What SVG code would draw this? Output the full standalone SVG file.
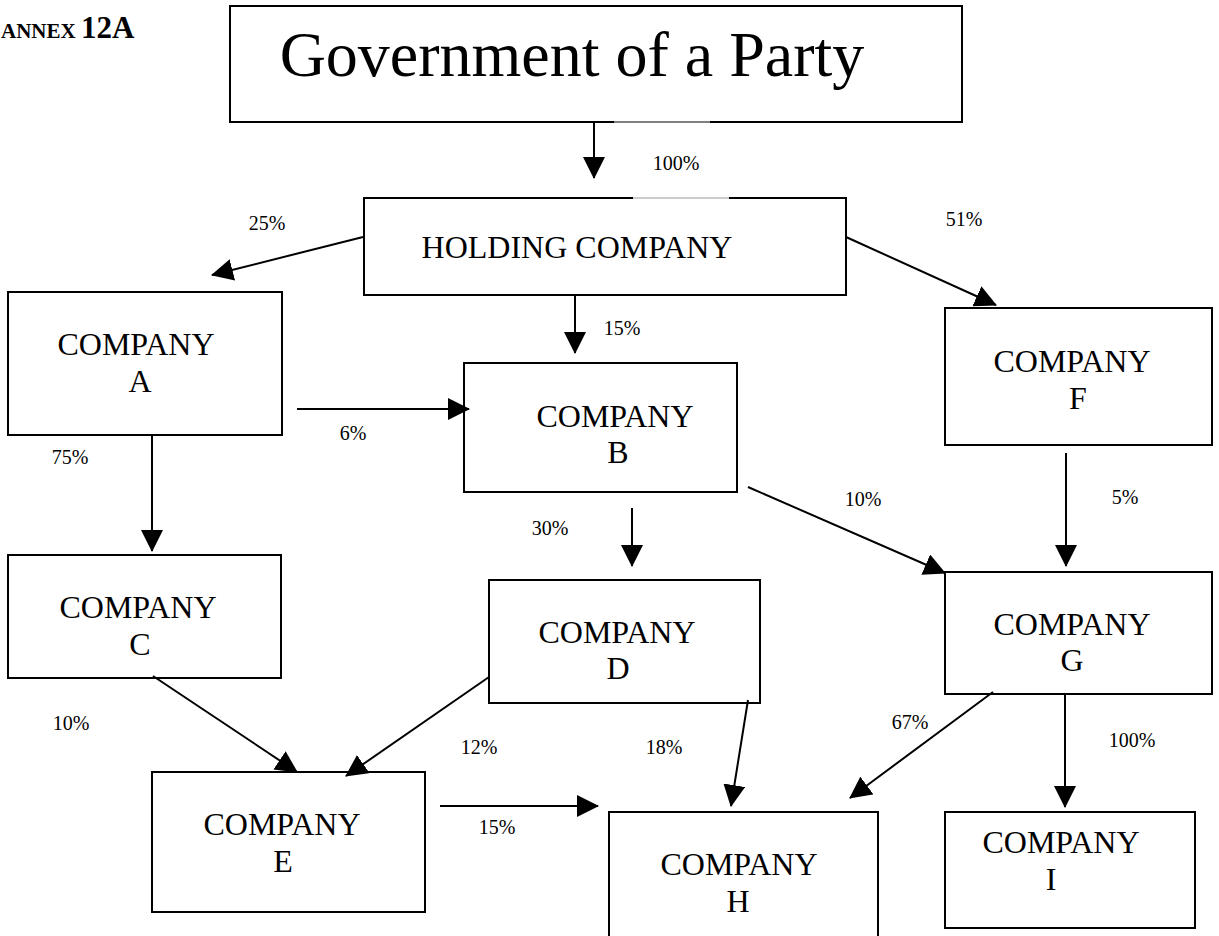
<svg xmlns="http://www.w3.org/2000/svg" width="1219" height="936" viewBox="0 0 1219 936">
<defs>
<marker id="ah" markerUnits="userSpaceOnUse" markerWidth="22" markerHeight="22" viewBox="0 0 22 22" refX="21" refY="11" orient="auto">
<path d="M0,0 L22,11 L0,22 Z" fill="#000"/>
</marker>
</defs>
<style>
.box{fill:#fff;stroke:#000;stroke-width:2}
.t{font-family:"Liberation Serif","Times New Roman",serif;fill:#000;text-anchor:middle}
.n{font-size:32px}
.p{font-size:20px}
.c{stroke:#000;stroke-width:2;fill:none;marker-end:url(#ah)}
</style>
<text x="1" y="38" font-family="Liberation Serif,serif" font-weight="bold" font-size="21">ANNEX <tspan font-size="31">12A</tspan></text>
<g id="gov">
<rect class="box" x="230" y="6" width="732" height="116"/>
<line x1="614" y1="122" x2="710" y2="122" stroke="#fff" stroke-width="3"/>
<line x1="614" y1="122" x2="710" y2="122" stroke="#000" stroke-width="1"/>
<text class="t" x="572" y="76" font-size="64">Government of a Party</text>
</g>
<g id="holding">
<rect class="box" x="364" y="198" width="482" height="97"/>
<line x1="633" y1="198" x2="729" y2="198" stroke="#fff" stroke-width="3"/>
<line x1="633" y1="198" x2="729" y2="198" stroke="#999" stroke-width="1"/>
<text class="t" x="577" y="258" font-size="32">HOLDING COMPANY</text>
</g>
<g id="a"><rect class="box" x="8" y="292" width="274" height="143"/><text class="t n" x="136" y="355">COMPANY</text><text class="t n" x="140" y="392">A</text></g>
<g id="b"><rect class="box" x="464" y="363" width="273" height="129"/><text class="t n" x="615" y="427">COMPANY</text><text class="t n" x="618" y="463">B</text></g>
<g id="f"><rect class="box" x="945" y="308" width="267" height="137"/><text class="t n" x="1072" y="372">COMPANY</text><text class="t n" x="1078" y="409">F</text></g>
<g id="c"><rect class="box" x="8" y="555" width="273" height="123"/><text class="t n" x="138" y="618">COMPANY</text><text class="t n" x="140" y="655">C</text></g>
<g id="d"><rect class="box" x="489" y="580" width="271" height="123"/><text class="t n" x="617" y="643">COMPANY</text><text class="t n" x="618" y="679">D</text></g>
<g id="g"><rect class="box" x="945" y="572" width="267" height="122"/><text class="t n" x="1072" y="635">COMPANY</text><text class="t n" x="1072" y="671">G</text></g>
<g id="e"><rect class="box" x="152" y="772" width="273" height="140"/><text class="t n" x="282" y="835">COMPANY</text><text class="t n" x="283" y="872">E</text></g>
<g id="h"><rect class="box" x="609" y="812" width="269" height="130"/><text class="t n" x="739" y="875">COMPANY</text><text class="t n" x="738" y="912">H</text></g>
<g id="i"><rect class="box" x="945" y="812" width="250" height="116"/><text class="t n" x="1061" y="853">COMPANY</text><text class="t n" x="1051" y="890">I</text></g>
<g id="connectors">
<line class="c" x1="594" y1="122" x2="594" y2="178"/>
<line class="c" x1="363" y1="237" x2="212" y2="275"/>
<line class="c" x1="846" y1="237" x2="996" y2="305"/>
<line class="c" x1="575" y1="295" x2="575" y2="353"/>
<line class="c" x1="297" y1="409" x2="469" y2="409"/>
<line class="c" x1="152" y1="435" x2="152" y2="551"/>
<line class="c" x1="748" y1="487" x2="945" y2="573"/>
<line class="c" x1="632" y1="508" x2="632" y2="566"/>
<line class="c" x1="1066" y1="453" x2="1066" y2="566"/>
<line class="c" x1="153" y1="676" x2="297" y2="772"/>
<line class="c" x1="489" y1="677" x2="346" y2="776"/>
<line class="c" x1="748" y1="700" x2="731" y2="806"/>
<line class="c" x1="993" y1="692" x2="850" y2="798"/>
<line class="c" x1="1065" y1="694" x2="1065" y2="807"/>
<line class="c" x1="440" y1="806" x2="598" y2="806"/>
</g>
<g id="labels">
<text class="t p" x="676" y="170">100%</text>
<text class="t p" x="267" y="230">25%</text>
<text class="t p" x="964" y="226">51%</text>
<text class="t p" x="622" y="335">15%</text>
<text class="t p" x="353" y="440">6%</text>
<text class="t p" x="70" y="464">75%</text>
<text class="t p" x="863" y="506">10%</text>
<text class="t p" x="550" y="535">30%</text>
<text class="t p" x="1125" y="504">5%</text>
<text class="t p" x="71" y="730">10%</text>
<text class="t p" x="479" y="754">12%</text>
<text class="t p" x="664" y="754">18%</text>
<text class="t p" x="910" y="729">67%</text>
<text class="t p" x="1132" y="747">100%</text>
<text class="t p" x="497" y="834">15%</text>
</g>
</svg>
